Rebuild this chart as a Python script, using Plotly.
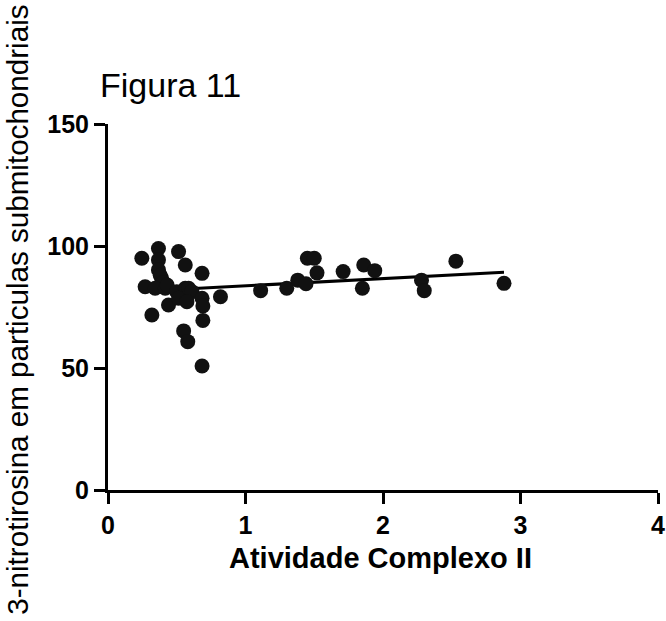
import numpy as np
import plotly.graph_objects as go

# Data
atividade_complexo_ii = [0.246, 0.367, 0.513, 0.367, 0.562, 0.367, 0.684, 0.39, 0.38, 0.40,
                         0.27, 0.343, 0.416, 0.43, 0.50, 0.562, 0.586, 0.61, 0.44, 0.513,
                         0.574, 0.684, 0.69, 0.818, 0.319, 0.69, 0.55, 0.58, 0.684,
                         1.11, 1.30, 1.38, 1.44, 1.45, 1.50, 1.52, 1.71, 1.85, 1.86, 1.94,
                         2.28, 2.30, 2.53, 2.88]
nitrotirosina = [95.0, 99.0, 97.7, 94.3, 92.2, 90.2, 88.8, 86.8, 88.0, 85.0,
                 83.3, 82.7, 82.7, 84.0, 81.3, 82.7, 82.7, 81.3, 75.8, 78.6,
                 77.2, 78.6, 75.4, 79.2, 71.7, 69.5, 65.2, 60.8, 50.8,
                 81.7, 82.7, 86.0, 84.5, 95.0, 95.0, 89.0, 89.5, 82.7, 92.2, 89.9,
                 86.0, 81.7, 93.8, 84.7]
x_ticks = [0, 1, 2, 3, 4]
y_ticks = [0, 50, 100, 150]

x = np.array(atividade_complexo_ii)
y = np.array(nitrotirosina)
slope, intercept = np.polyfit(x, y, 1)
fit_x = np.array([x.min(), x.max()])
fit_y = slope * fit_x + intercept

fig = go.Figure()
fig.add_trace(go.Scatter(x=fit_x, y=fit_y, mode="lines",
                         line=dict(color="black", width=3), showlegend=False))
fig.add_trace(go.Scatter(x=x, y=y, mode="markers",
                         marker=dict(color="#111111", size=15, line=dict(width=0)),
                         showlegend=False))

tickfont = dict(family="Liberation Sans, Arial", size=25, color="black", weight="bold")
fig.update_layout(
    width=666, height=621,
    margin=dict(l=108, r=8, t=124, b=131),
    plot_bgcolor="white", paper_bgcolor="white",
    xaxis=dict(range=[0, 4], tickvals=x_ticks, showline=True, linewidth=3, linecolor="black",
               ticks="outside", ticklen=11, tickwidth=3, tickcolor="black",
               showgrid=False, zeroline=False, tickfont=tickfont, automargin=False),
    yaxis=dict(range=[0, 150], tickvals=y_ticks, showline=True, linewidth=3, linecolor="black",
               ticks="outside", ticklen=11, tickwidth=3, tickcolor="black",
               showgrid=False, zeroline=False, tickfont=tickfont, automargin=False),
    annotations=[
        dict(text="Figura 11", xref="paper", yref="paper", x=-0.018, y=1.107,
             xanchor="left", yanchor="middle", showarrow=False,
             font=dict(family="Liberation Sans, Arial", size=34, color="black")),
        dict(text="Atividade Complexo II", xref="paper", yref="paper", x=0.495, y=-0.186,
             xanchor="center", yanchor="middle", showarrow=False,
             font=dict(family="Liberation Sans, Arial", size=29, color="black", weight="bold")),
        dict(text="3-nitrotirosina em particulas submitochondriais", xref="paper", yref="paper",
             x=-0.164, y=0.492, xanchor="center", yanchor="middle", textangle=-90,
             showarrow=False,
             font=dict(family="Liberation Sans, Arial", size=29.6, color="black")),
    ],
)

fig.write_html("out.html", config={"displayModeBar": False},
               post_script="document.body.style.margin='0';document.body.style.overflow='hidden';")
